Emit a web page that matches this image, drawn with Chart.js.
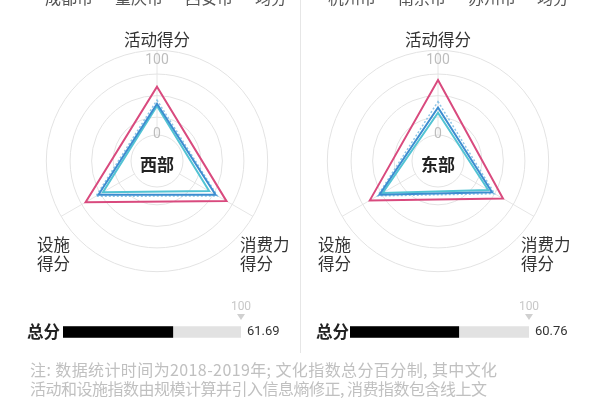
<!DOCTYPE html>
<html><head><meta charset="utf-8">
<script src="https://cdn.jsdelivr.net/npm/chart.js@4.4.1/dist/chart.umd.min.js"></script>
<style>
html,body{margin:0;padding:0;background:#fff;}
body{width:600px;height:400px;position:relative;overflow:hidden;font-family:"Noto Sans CJK SC","Noto Sans",sans-serif;}
canvas{position:absolute;}
.t{position:absolute;white-space:nowrap;}
</style></head><body>
<canvas id="westRadar" width="300" height="300" style="left:0;top:0"></canvas>
<canvas id="eastRadar" width="300" height="300" style="left:300px;top:0"></canvas>
<canvas id="westBar" width="300" height="64" style="left:0;top:300px"></canvas>
<canvas id="eastBar" width="300" height="64" style="left:300px;top:300px"></canvas>
<div style="position:absolute;left:300px;top:0;width:1px;height:353px;background:#e6e6e6"></div>
<div id="legends"></div>
<div class="t" style="left:27px;top:320px;font-size:16.5px;line-height:22px;font-weight:bold;color:#222">总分</div>
<div class="t" style="left:316px;top:320px;font-size:16.5px;line-height:22px;font-weight:bold;color:#222">总分</div>
<div class="t" style="left:30px;top:360px;font-size:16px;line-height:19px;color:#c0c0c0"><span style="letter-spacing:0.4px">注: 数据统计时间为2018-2019年; 文化指数总分百分制, 其中文化</span><br><span style="letter-spacing:-0.5px">活动和设施指数由规模计算并引入信息熵修正, 消费指数包含线上文</span></div>
<script>
// ---- data ----
const axisLabels = [['活动得分'], ['消费力', '得分'], ['设施', '得分']];
const westNames = ['成都市', '重庆市', '西安市', '均分'];
const eastNames = ['杭州市', '南京市', '苏州市', '均分'];
const westChengdu = [65, 73, 76];
const westChongqing = [42, 56, 56];
const westXian = [39, 46, 49];
const westAvg = [47, 59, 60];
const eastHangzhou = [74, 66, 71];
const eastNanjing = [37, 49, 56];
const eastSuzhou = [30, 43, 51];
const eastAvg = [45, 53, 59];
const radialTicks = [-35, 0, 24, 53, 82, 100, 114];
const shownTicks = [0, 100];
const regionNames = ['西部', '东部'];
const totalLabel = ['总分'];
const westTotal = [61.69];
const eastTotal = [60.76];
const totalMax = [100];

// ---- legends (cut off at top) ----
const legendX = [[45, 115, 185, 255], [328, 398, 468, 537]];
[westNames, eastNames].forEach((names, k) => {
  names.forEach((n, i) => {
    const d = document.createElement('div');
    d.className = 't';
    d.style.cssText = `left:${legendX[k][i]}px;top:-13px;font-size:16px;line-height:20px;color:#555`;
    d.textContent = n;
    document.getElementById('legends').appendChild(d);
  });
});

const seriesColors = ['#d94a7e', '#3c8dd0', '#52c3d3', '#8ec5e6'];
const FONT = '"Noto Sans CJK SC", "Noto Sans", sans-serif';

const radarDecor = {
  id: 'radarDecor',
  beforeDraw(chart) {
    const s = chart.scales.r, ctx = chart.ctx;
    const r0 = s.getDistanceFromCenterForValue(0);
    const r1 = s.getDistanceFromCenterForValue(s.max);
    ctx.save();
    ctx.strokeStyle = '#e6e6e6'; ctx.lineWidth = 1;
    for (let i = 0; i < chart.data.labels.length; i++) {
      const a = s.getPointPosition(i, r0), b = s.getPointPosition(i, r1);
      ctx.beginPath(); ctx.moveTo(a.x, a.y); ctx.lineTo(b.x, b.y); ctx.stroke();
    }
    ctx.restore();
  },
  afterDraw(chart, args, opts) {
    const s = chart.scales.r, ctx = chart.ctx;
    const xc = s.xCenter, yc = s.yCenter;
    ctx.save();
    ctx.fillStyle = '#222';
    ctx.font = 'bold 17px ' + FONT;
    ctx.textAlign = 'center'; ctx.textBaseline = 'middle';
    ctx.fillText(opts.region, xc, yc + 4);
    ctx.fillStyle = '#333';
    ctx.font = '16.5px ' + FONT;
    const labs = chart.data.labels;
    ctx.textAlign = 'center';
    ctx.fillText(labs[0][0], xc, yc - 121);
    ctx.textAlign = 'left';
    labs[1].forEach((l, j) => ctx.fillText(l, xc + 83, yc + 84 + j * 19));
    labs[2].forEach((l, j) => ctx.fillText(l, xc - 120, yc + 84 + j * 19));
    ctx.restore();
  }
};

function radarConfig(names, series, xc, region) {
  return {
    type: 'radar',
    data: {
      labels: axisLabels,
      datasets: series.map((d, i) => ({
        label: names[i], data: d, borderColor: seriesColors[i],
        borderWidth: i === 3 ? 1.5 : 2, borderDash: i === 3 ? [2, 2] : [],
        fill: false, backgroundColor: 'transparent', pointRadius: 0
      }))
    },
    options: {
      responsive: false, animation: false, events: [],
      layout: { padding: 0 },
      plugins: { legend: { display: false }, tooltip: { enabled: false }, radarDecor: { region } },
      elements: { line: { tension: 0 } },
      scales: {
        r: {
          min: radialTicks[0], max: radialTicks[radialTicks.length - 1],
          afterBuildTicks: s => { s.ticks = radialTicks.map(v => ({ value: v })); },
          afterFit: s => { s.xCenter = xc; s.yCenter = 161; s.drawingArea = 110.7; },
          angleLines: { display: false },
          grid: {
            circular: true, lineWidth: 1,
            color: c => (c.tick && (c.tick.value === 100 || c.tick.value === radialTicks[0])) ? 'rgba(0,0,0,0)' : '#e3e3e3'
          },
          pointLabels: { display: false },
          ticks: {
            display: true, showLabelBackdrop: false, color: '#bdbdbd',
            font: { size: 14, family: 'Roboto' },
            callback: v => shownTicks.includes(v) ? String(v) : ''
          }
        }
      }
    },
    plugins: [radarDecor]
  };
}

new Chart(document.getElementById('westRadar'),
  radarConfig(westNames, [westChengdu, westChongqing, westXian, westAvg], 157, regionNames[0]));
new Chart(document.getElementById('eastRadar'),
  radarConfig(eastNames, [eastHangzhou, eastNanjing, eastSuzhou, eastAvg], 138, regionNames[1]));

const barDecor = {
  id: 'barDecor',
  afterDraw(chart) {
    const ctx = chart.ctx, x = chart.scales.x, y = chart.scales.y;
    const xm = x.getPixelForValue(totalMax[0]);
    const yb = y.getPixelForValue(0);
    ctx.save();
    ctx.fillStyle = '#c8c8c8';
    ctx.font = '12px Roboto';
    ctx.textAlign = 'center'; ctx.textBaseline = 'middle';
    ctx.fillText(String(totalMax[0]), xm, 7);
    ctx.fillStyle = '#d0d0d0';
    ctx.beginPath(); ctx.moveTo(xm - 4, 14); ctx.lineTo(xm + 4, 14); ctx.lineTo(xm, 20); ctx.closePath(); ctx.fill();
    ctx.fillStyle = '#333';
    ctx.font = '13px Roboto';
    ctx.textAlign = 'left';
    ctx.fillText(String(chart.data.datasets[0].data[0]), xm + 6, yb);
    ctx.restore();
  }
};

function barConfig(total, padL, padR) {
  return {
    type: 'bar',
    data: {
      labels: totalLabel,
      datasets: [
        { data: total, backgroundColor: '#000', barThickness: 11, grouped: false, order: 1 },
        { data: totalMax, backgroundColor: '#e2e2e2', barThickness: 11, grouped: false, order: 2 }
      ]
    },
    options: {
      indexAxis: 'y', responsive: false, animation: false, events: [],
      layout: { padding: { left: padL, right: padR, top: 0, bottom: 0 } },
      plugins: { legend: { display: false }, tooltip: { enabled: false } },
      scales: { x: { display: false, min: 0, max: 100 }, y: { display: false } }
    },
    plugins: [barDecor]
  };
}
new Chart(document.getElementById('westBar'), barConfig(westTotal, 63, 59));
new Chart(document.getElementById('eastBar'), barConfig(eastTotal, 50, 71));
</script>
</body></html>
